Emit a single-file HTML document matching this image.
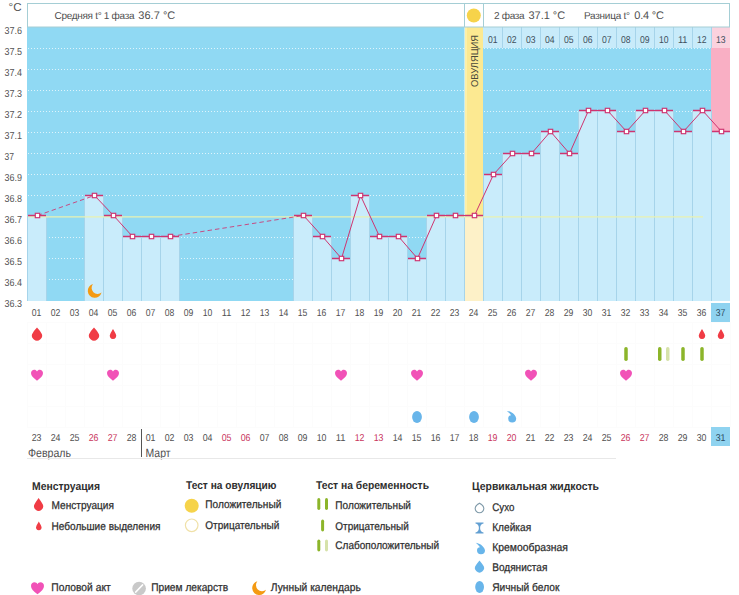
<!DOCTYPE html>
<html><head><meta charset="utf-8"><style>
html,body{margin:0;padding:0;background:#fff;width:739px;height:595px;overflow:hidden}
svg{display:block;font-family:"Liberation Sans",sans-serif}
</style></head><body>
<svg width="739" height="595" viewBox="0 0 739 595" font-family="Liberation Sans, sans-serif" text-rendering="geometricPrecision">
<rect width="739" height="595" fill="#ffffff"/>
<rect x="27" y="27" width="703" height="274" fill="#90d9f3"/>
<line x1="28" y1="48.5" x2="730" y2="48.5" stroke="#ffffff" stroke-opacity="0.7" stroke-width="1" stroke-dasharray="1 2"/>
<line x1="28" y1="69.5" x2="730" y2="69.5" stroke="#ffffff" stroke-opacity="0.7" stroke-width="1" stroke-dasharray="1 2"/>
<line x1="28" y1="90.5" x2="730" y2="90.5" stroke="#ffffff" stroke-opacity="0.7" stroke-width="1" stroke-dasharray="1 2"/>
<line x1="28" y1="111.5" x2="730" y2="111.5" stroke="#ffffff" stroke-opacity="0.7" stroke-width="1" stroke-dasharray="1 2"/>
<line x1="28" y1="132.5" x2="730" y2="132.5" stroke="#ffffff" stroke-opacity="0.7" stroke-width="1" stroke-dasharray="1 2"/>
<line x1="28" y1="153.5" x2="730" y2="153.5" stroke="#ffffff" stroke-opacity="0.7" stroke-width="1" stroke-dasharray="1 2"/>
<line x1="28" y1="174.5" x2="730" y2="174.5" stroke="#ffffff" stroke-opacity="0.7" stroke-width="1" stroke-dasharray="1 2"/>
<line x1="28" y1="195.5" x2="730" y2="195.5" stroke="#ffffff" stroke-opacity="0.7" stroke-width="1" stroke-dasharray="1 2"/>
<line x1="28" y1="237.5" x2="730" y2="237.5" stroke="#ffffff" stroke-opacity="0.7" stroke-width="1" stroke-dasharray="1 2"/>
<line x1="28" y1="258.5" x2="730" y2="258.5" stroke="#ffffff" stroke-opacity="0.7" stroke-width="1" stroke-dasharray="1 2"/>
<line x1="28" y1="279.5" x2="730" y2="279.5" stroke="#ffffff" stroke-opacity="0.7" stroke-width="1" stroke-dasharray="1 2"/>
<rect x="464" y="27" width="19" height="274" fill="#c9ecf0"/>
<rect x="465" y="27" width="18" height="274" fill="#fce991"/>
<rect x="465" y="27" width="2" height="274" fill="#fdf0a8"/>
<rect x="711" y="27" width="19" height="274" fill="#f9afc4"/>
<rect x="483" y="27" width="19" height="21" fill="#c8ebfa"/>
<rect x="502" y="27" width="19" height="21" fill="#c8ebfa"/>
<rect x="521" y="27" width="19" height="21" fill="#c8ebfa"/>
<rect x="540" y="27" width="19" height="21" fill="#c8ebfa"/>
<rect x="559" y="27" width="19" height="21" fill="#c8ebfa"/>
<rect x="578" y="27" width="19" height="21" fill="#c8ebfa"/>
<rect x="597" y="27" width="19" height="21" fill="#c8ebfa"/>
<rect x="616" y="27" width="19" height="21" fill="#c8ebfa"/>
<rect x="635" y="27" width="19" height="21" fill="#c8ebfa"/>
<rect x="654" y="27" width="19" height="21" fill="#c8ebfa"/>
<rect x="673" y="27" width="19" height="21" fill="#c8ebfa"/>
<rect x="692" y="27" width="19" height="21" fill="#c8ebfa"/>
<rect x="711" y="27" width="19" height="21" fill="#fbd2de"/>
<rect x="27" y="215" width="19" height="86" fill="#c9ecfb"/>
<rect x="84" y="195" width="19" height="106" fill="#c9ecfb"/>
<rect x="103" y="215" width="19" height="86" fill="#c9ecfb"/>
<rect x="122" y="236" width="19" height="65" fill="#c9ecfb"/>
<rect x="141" y="236" width="19" height="65" fill="#c9ecfb"/>
<rect x="160" y="236" width="19" height="65" fill="#c9ecfb"/>
<rect x="293" y="215" width="19" height="86" fill="#c9ecfb"/>
<rect x="312" y="236" width="19" height="65" fill="#c9ecfb"/>
<rect x="331" y="258" width="19" height="43" fill="#c9ecfb"/>
<rect x="350" y="195" width="19" height="106" fill="#c9ecfb"/>
<rect x="369" y="236" width="19" height="65" fill="#c9ecfb"/>
<rect x="388" y="236" width="19" height="65" fill="#c9ecfb"/>
<rect x="407" y="258" width="19" height="43" fill="#c9ecfb"/>
<rect x="426" y="215" width="19" height="86" fill="#c9ecfb"/>
<rect x="445" y="215" width="19" height="86" fill="#c9ecfb"/>
<rect x="464" y="215" width="19" height="86" fill="#fdf1c8"/>
<rect x="483" y="174" width="19" height="127" fill="#c9ecfb"/>
<rect x="502" y="153" width="19" height="148" fill="#c9ecfb"/>
<rect x="521" y="153" width="19" height="148" fill="#c9ecfb"/>
<rect x="540" y="131" width="19" height="170" fill="#c9ecfb"/>
<rect x="559" y="153" width="19" height="148" fill="#c9ecfb"/>
<rect x="578" y="110" width="19" height="191" fill="#c9ecfb"/>
<rect x="597" y="110" width="19" height="191" fill="#c9ecfb"/>
<rect x="616" y="131" width="19" height="170" fill="#c9ecfb"/>
<rect x="635" y="110" width="19" height="191" fill="#c9ecfb"/>
<rect x="654" y="110" width="19" height="191" fill="#c9ecfb"/>
<rect x="673" y="131" width="19" height="170" fill="#c9ecfb"/>
<rect x="692" y="110" width="19" height="191" fill="#c9ecfb"/>
<rect x="711" y="131" width="19" height="170" fill="#c9ecfb"/>
<line x1="27.5" y1="215" x2="27.5" y2="301" stroke="#a6d4ea"/>
<line x1="46.5" y1="215" x2="46.5" y2="301" stroke="#a6d4ea"/>
<line x1="84.5" y1="195" x2="84.5" y2="301" stroke="#a6d4ea"/>
<line x1="103.5" y1="195" x2="103.5" y2="301" stroke="#a6d4ea"/>
<line x1="103.5" y1="215" x2="103.5" y2="301" stroke="#a6d4ea"/>
<line x1="122.5" y1="215" x2="122.5" y2="301" stroke="#a6d4ea"/>
<line x1="122.5" y1="236" x2="122.5" y2="301" stroke="#a6d4ea"/>
<line x1="141.5" y1="236" x2="141.5" y2="301" stroke="#a6d4ea"/>
<line x1="141.5" y1="236" x2="141.5" y2="301" stroke="#a6d4ea"/>
<line x1="160.5" y1="236" x2="160.5" y2="301" stroke="#a6d4ea"/>
<line x1="160.5" y1="236" x2="160.5" y2="301" stroke="#a6d4ea"/>
<line x1="179.5" y1="236" x2="179.5" y2="301" stroke="#a6d4ea"/>
<line x1="293.5" y1="215" x2="293.5" y2="301" stroke="#a6d4ea"/>
<line x1="312.5" y1="215" x2="312.5" y2="301" stroke="#a6d4ea"/>
<line x1="312.5" y1="236" x2="312.5" y2="301" stroke="#a6d4ea"/>
<line x1="331.5" y1="236" x2="331.5" y2="301" stroke="#a6d4ea"/>
<line x1="331.5" y1="258" x2="331.5" y2="301" stroke="#a6d4ea"/>
<line x1="350.5" y1="258" x2="350.5" y2="301" stroke="#a6d4ea"/>
<line x1="350.5" y1="195" x2="350.5" y2="301" stroke="#a6d4ea"/>
<line x1="369.5" y1="195" x2="369.5" y2="301" stroke="#a6d4ea"/>
<line x1="369.5" y1="236" x2="369.5" y2="301" stroke="#a6d4ea"/>
<line x1="388.5" y1="236" x2="388.5" y2="301" stroke="#a6d4ea"/>
<line x1="388.5" y1="236" x2="388.5" y2="301" stroke="#a6d4ea"/>
<line x1="407.5" y1="236" x2="407.5" y2="301" stroke="#a6d4ea"/>
<line x1="407.5" y1="258" x2="407.5" y2="301" stroke="#a6d4ea"/>
<line x1="426.5" y1="258" x2="426.5" y2="301" stroke="#a6d4ea"/>
<line x1="426.5" y1="215" x2="426.5" y2="301" stroke="#a6d4ea"/>
<line x1="445.5" y1="215" x2="445.5" y2="301" stroke="#a6d4ea"/>
<line x1="445.5" y1="215" x2="445.5" y2="301" stroke="#a6d4ea"/>
<line x1="464.5" y1="215" x2="464.5" y2="301" stroke="#a6d4ea"/>
<line x1="464.5" y1="215" x2="464.5" y2="301" stroke="#a6d4ea"/>
<line x1="483.5" y1="215" x2="483.5" y2="301" stroke="#a6d4ea"/>
<line x1="483.5" y1="174" x2="483.5" y2="301" stroke="#a6d4ea"/>
<line x1="502.5" y1="174" x2="502.5" y2="301" stroke="#a6d4ea"/>
<line x1="502.5" y1="153" x2="502.5" y2="301" stroke="#a6d4ea"/>
<line x1="521.5" y1="153" x2="521.5" y2="301" stroke="#a6d4ea"/>
<line x1="521.5" y1="153" x2="521.5" y2="301" stroke="#a6d4ea"/>
<line x1="540.5" y1="153" x2="540.5" y2="301" stroke="#a6d4ea"/>
<line x1="540.5" y1="131" x2="540.5" y2="301" stroke="#a6d4ea"/>
<line x1="559.5" y1="131" x2="559.5" y2="301" stroke="#a6d4ea"/>
<line x1="559.5" y1="153" x2="559.5" y2="301" stroke="#a6d4ea"/>
<line x1="578.5" y1="153" x2="578.5" y2="301" stroke="#a6d4ea"/>
<line x1="578.5" y1="110" x2="578.5" y2="301" stroke="#a6d4ea"/>
<line x1="597.5" y1="110" x2="597.5" y2="301" stroke="#a6d4ea"/>
<line x1="597.5" y1="110" x2="597.5" y2="301" stroke="#a6d4ea"/>
<line x1="616.5" y1="110" x2="616.5" y2="301" stroke="#a6d4ea"/>
<line x1="616.5" y1="131" x2="616.5" y2="301" stroke="#a6d4ea"/>
<line x1="635.5" y1="131" x2="635.5" y2="301" stroke="#a6d4ea"/>
<line x1="635.5" y1="110" x2="635.5" y2="301" stroke="#a6d4ea"/>
<line x1="654.5" y1="110" x2="654.5" y2="301" stroke="#a6d4ea"/>
<line x1="654.5" y1="110" x2="654.5" y2="301" stroke="#a6d4ea"/>
<line x1="673.5" y1="110" x2="673.5" y2="301" stroke="#a6d4ea"/>
<line x1="673.5" y1="131" x2="673.5" y2="301" stroke="#a6d4ea"/>
<line x1="692.5" y1="131" x2="692.5" y2="301" stroke="#a6d4ea"/>
<line x1="692.5" y1="110" x2="692.5" y2="301" stroke="#a6d4ea"/>
<line x1="711.5" y1="110" x2="711.5" y2="301" stroke="#a6d4ea"/>
<line x1="711.5" y1="131" x2="711.5" y2="301" stroke="#a6d4ea"/>
<line x1="502.5" y1="27" x2="502.5" y2="48" stroke="#a6d4ea"/>
<line x1="521.5" y1="27" x2="521.5" y2="48" stroke="#a6d4ea"/>
<line x1="540.5" y1="27" x2="540.5" y2="48" stroke="#a6d4ea"/>
<line x1="559.5" y1="27" x2="559.5" y2="48" stroke="#a6d4ea"/>
<line x1="578.5" y1="27" x2="578.5" y2="48" stroke="#a6d4ea"/>
<line x1="597.5" y1="27" x2="597.5" y2="48" stroke="#a6d4ea"/>
<line x1="616.5" y1="27" x2="616.5" y2="48" stroke="#a6d4ea"/>
<line x1="635.5" y1="27" x2="635.5" y2="48" stroke="#a6d4ea"/>
<line x1="654.5" y1="27" x2="654.5" y2="48" stroke="#a6d4ea"/>
<line x1="673.5" y1="27" x2="673.5" y2="48" stroke="#a6d4ea"/>
<line x1="692.5" y1="27" x2="692.5" y2="48" stroke="#a6d4ea"/>
<line x1="711.5" y1="27" x2="711.5" y2="48" stroke="#a6d4ea"/>
<line x1="28" y1="216.9" x2="703" y2="216.9" stroke="#e9f2b2" stroke-width="1.4"/>
<rect x="27.5" y="3.5" width="702" height="23.5" fill="#ffffff" stroke="#a5ced5"/>
<line x1="464.5" y1="3.5" x2="464.5" y2="27" stroke="#a5ced5"/>
<line x1="483.5" y1="3.5" x2="483.5" y2="27" stroke="#a5ced5"/>
<circle cx="473.8" cy="15.5" r="7" fill="#f6d34a"/>
<line x1="28" y1="215.5" x2="46" y2="215.5" stroke="#cf3470" stroke-width="1.5"/>
<line x1="85" y1="195.5" x2="103" y2="195.5" stroke="#cf3470" stroke-width="1.5"/>
<line x1="104" y1="215.5" x2="122" y2="215.5" stroke="#cf3470" stroke-width="1.5"/>
<line x1="123" y1="236.5" x2="141" y2="236.5" stroke="#cf3470" stroke-width="1.5"/>
<line x1="142" y1="236.5" x2="160" y2="236.5" stroke="#cf3470" stroke-width="1.5"/>
<line x1="161" y1="236.5" x2="179" y2="236.5" stroke="#cf3470" stroke-width="1.5"/>
<line x1="294" y1="215.5" x2="312" y2="215.5" stroke="#cf3470" stroke-width="1.5"/>
<line x1="313" y1="236.5" x2="331" y2="236.5" stroke="#cf3470" stroke-width="1.5"/>
<line x1="332" y1="258.5" x2="350" y2="258.5" stroke="#cf3470" stroke-width="1.5"/>
<line x1="351" y1="195.5" x2="369" y2="195.5" stroke="#cf3470" stroke-width="1.5"/>
<line x1="370" y1="236.5" x2="388" y2="236.5" stroke="#cf3470" stroke-width="1.5"/>
<line x1="389" y1="236.5" x2="407" y2="236.5" stroke="#cf3470" stroke-width="1.5"/>
<line x1="408" y1="258.5" x2="426" y2="258.5" stroke="#cf3470" stroke-width="1.5"/>
<line x1="427" y1="215.5" x2="445" y2="215.5" stroke="#cf3470" stroke-width="1.5"/>
<line x1="446" y1="215.5" x2="464" y2="215.5" stroke="#cf3470" stroke-width="1.5"/>
<line x1="465" y1="215.5" x2="483" y2="215.5" stroke="#cf3470" stroke-width="1.5"/>
<line x1="484" y1="174.5" x2="502" y2="174.5" stroke="#cf3470" stroke-width="1.5"/>
<line x1="503" y1="153.5" x2="521" y2="153.5" stroke="#cf3470" stroke-width="1.5"/>
<line x1="522" y1="153.5" x2="540" y2="153.5" stroke="#cf3470" stroke-width="1.5"/>
<line x1="541" y1="131.5" x2="559" y2="131.5" stroke="#cf3470" stroke-width="1.5"/>
<line x1="560" y1="153.5" x2="578" y2="153.5" stroke="#cf3470" stroke-width="1.5"/>
<line x1="579" y1="110.5" x2="597" y2="110.5" stroke="#cf3470" stroke-width="1.5"/>
<line x1="598" y1="110.5" x2="616" y2="110.5" stroke="#cf3470" stroke-width="1.5"/>
<line x1="617" y1="131.5" x2="635" y2="131.5" stroke="#cf3470" stroke-width="1.5"/>
<line x1="636" y1="110.5" x2="654" y2="110.5" stroke="#cf3470" stroke-width="1.5"/>
<line x1="655" y1="110.5" x2="673" y2="110.5" stroke="#cf3470" stroke-width="1.5"/>
<line x1="674" y1="131.5" x2="692" y2="131.5" stroke="#cf3470" stroke-width="1.5"/>
<line x1="693" y1="110.5" x2="711" y2="110.5" stroke="#cf3470" stroke-width="1.5"/>
<line x1="712" y1="131.5" x2="730" y2="131.5" stroke="#cf3470" stroke-width="1.5"/>
<line x1="37.5" y1="215.5" x2="94.5" y2="195.5" stroke="#cf3470" stroke-width="1" stroke-dasharray="4.5 3" stroke-opacity="0.85"/>
<line x1="94.5" y1="195.5" x2="113.5" y2="215.5" stroke="#cf3470" stroke-width="1"/>
<line x1="113.5" y1="215.5" x2="132.5" y2="236.5" stroke="#cf3470" stroke-width="1"/>
<line x1="132.5" y1="236.5" x2="151.5" y2="236.5" stroke="#cf3470" stroke-width="1"/>
<line x1="151.5" y1="236.5" x2="170.5" y2="236.5" stroke="#cf3470" stroke-width="1"/>
<line x1="170.5" y1="236.5" x2="303.5" y2="215.5" stroke="#cf3470" stroke-width="1" stroke-dasharray="4.5 3" stroke-opacity="0.85"/>
<line x1="303.5" y1="215.5" x2="322.5" y2="236.5" stroke="#cf3470" stroke-width="1"/>
<line x1="322.5" y1="236.5" x2="341.5" y2="258.5" stroke="#cf3470" stroke-width="1"/>
<line x1="341.5" y1="258.5" x2="360.5" y2="195.5" stroke="#cf3470" stroke-width="1"/>
<line x1="360.5" y1="195.5" x2="379.5" y2="236.5" stroke="#cf3470" stroke-width="1"/>
<line x1="379.5" y1="236.5" x2="398.5" y2="236.5" stroke="#cf3470" stroke-width="1"/>
<line x1="398.5" y1="236.5" x2="417.5" y2="258.5" stroke="#cf3470" stroke-width="1"/>
<line x1="417.5" y1="258.5" x2="436.5" y2="215.5" stroke="#cf3470" stroke-width="1"/>
<line x1="436.5" y1="215.5" x2="455.5" y2="215.5" stroke="#cf3470" stroke-width="1"/>
<line x1="455.5" y1="215.5" x2="474.5" y2="215.5" stroke="#cf3470" stroke-width="1"/>
<line x1="474.5" y1="215.5" x2="493.5" y2="174.5" stroke="#cf3470" stroke-width="1"/>
<line x1="493.5" y1="174.5" x2="512.5" y2="153.5" stroke="#cf3470" stroke-width="1"/>
<line x1="512.5" y1="153.5" x2="531.5" y2="153.5" stroke="#cf3470" stroke-width="1"/>
<line x1="531.5" y1="153.5" x2="550.5" y2="131.5" stroke="#cf3470" stroke-width="1"/>
<line x1="550.5" y1="131.5" x2="569.5" y2="153.5" stroke="#cf3470" stroke-width="1"/>
<line x1="569.5" y1="153.5" x2="588.5" y2="110.5" stroke="#cf3470" stroke-width="1"/>
<line x1="588.5" y1="110.5" x2="607.5" y2="110.5" stroke="#cf3470" stroke-width="1"/>
<line x1="607.5" y1="110.5" x2="626.5" y2="131.5" stroke="#cf3470" stroke-width="1"/>
<line x1="626.5" y1="131.5" x2="645.5" y2="110.5" stroke="#cf3470" stroke-width="1"/>
<line x1="645.5" y1="110.5" x2="664.5" y2="110.5" stroke="#cf3470" stroke-width="1"/>
<line x1="664.5" y1="110.5" x2="683.5" y2="131.5" stroke="#cf3470" stroke-width="1"/>
<line x1="683.5" y1="131.5" x2="702.5" y2="110.5" stroke="#cf3470" stroke-width="1"/>
<line x1="702.5" y1="110.5" x2="721.5" y2="131.5" stroke="#cf3470" stroke-width="1"/>
<rect x="35.3" y="213.3" width="4.4" height="4.4" fill="#ffffff" stroke="#cf3470" stroke-width="1.15"/>
<rect x="92.3" y="193.3" width="4.4" height="4.4" fill="#ffffff" stroke="#cf3470" stroke-width="1.15"/>
<rect x="111.3" y="213.3" width="4.4" height="4.4" fill="#ffffff" stroke="#cf3470" stroke-width="1.15"/>
<rect x="130.3" y="234.3" width="4.4" height="4.4" fill="#ffffff" stroke="#cf3470" stroke-width="1.15"/>
<rect x="149.3" y="234.3" width="4.4" height="4.4" fill="#ffffff" stroke="#cf3470" stroke-width="1.15"/>
<rect x="168.3" y="234.3" width="4.4" height="4.4" fill="#ffffff" stroke="#cf3470" stroke-width="1.15"/>
<rect x="301.3" y="213.3" width="4.4" height="4.4" fill="#ffffff" stroke="#cf3470" stroke-width="1.15"/>
<rect x="320.3" y="234.3" width="4.4" height="4.4" fill="#ffffff" stroke="#cf3470" stroke-width="1.15"/>
<rect x="339.3" y="256.3" width="4.4" height="4.4" fill="#ffffff" stroke="#cf3470" stroke-width="1.15"/>
<rect x="358.3" y="193.3" width="4.4" height="4.4" fill="#ffffff" stroke="#cf3470" stroke-width="1.15"/>
<rect x="377.3" y="234.3" width="4.4" height="4.4" fill="#ffffff" stroke="#cf3470" stroke-width="1.15"/>
<rect x="396.3" y="234.3" width="4.4" height="4.4" fill="#ffffff" stroke="#cf3470" stroke-width="1.15"/>
<rect x="415.3" y="256.3" width="4.4" height="4.4" fill="#ffffff" stroke="#cf3470" stroke-width="1.15"/>
<rect x="434.3" y="213.3" width="4.4" height="4.4" fill="#ffffff" stroke="#cf3470" stroke-width="1.15"/>
<rect x="453.3" y="213.3" width="4.4" height="4.4" fill="#ffffff" stroke="#cf3470" stroke-width="1.15"/>
<rect x="472.3" y="213.3" width="4.4" height="4.4" fill="#ffffff" stroke="#cf3470" stroke-width="1.15"/>
<rect x="491.3" y="172.3" width="4.4" height="4.4" fill="#ffffff" stroke="#cf3470" stroke-width="1.15"/>
<rect x="510.3" y="151.3" width="4.4" height="4.4" fill="#ffffff" stroke="#cf3470" stroke-width="1.15"/>
<rect x="529.3" y="151.3" width="4.4" height="4.4" fill="#ffffff" stroke="#cf3470" stroke-width="1.15"/>
<rect x="548.3" y="129.3" width="4.4" height="4.4" fill="#ffffff" stroke="#cf3470" stroke-width="1.15"/>
<rect x="567.3" y="151.3" width="4.4" height="4.4" fill="#ffffff" stroke="#cf3470" stroke-width="1.15"/>
<rect x="586.3" y="108.3" width="4.4" height="4.4" fill="#ffffff" stroke="#cf3470" stroke-width="1.15"/>
<rect x="605.3" y="108.3" width="4.4" height="4.4" fill="#ffffff" stroke="#cf3470" stroke-width="1.15"/>
<rect x="624.3" y="129.3" width="4.4" height="4.4" fill="#ffffff" stroke="#cf3470" stroke-width="1.15"/>
<rect x="643.3" y="108.3" width="4.4" height="4.4" fill="#ffffff" stroke="#cf3470" stroke-width="1.15"/>
<rect x="662.3" y="108.3" width="4.4" height="4.4" fill="#ffffff" stroke="#cf3470" stroke-width="1.15"/>
<rect x="681.3" y="129.3" width="4.4" height="4.4" fill="#ffffff" stroke="#cf3470" stroke-width="1.15"/>
<rect x="700.3" y="108.3" width="4.4" height="4.4" fill="#ffffff" stroke="#cf3470" stroke-width="1.15"/>
<rect x="719.3" y="129.3" width="4.4" height="4.4" fill="#ffffff" stroke="#cf3470" stroke-width="1.15"/>
<text transform="translate(477.5,87) rotate(-90)" font-size="10" fill="#4a4a3c" textLength="52" lengthAdjust="spacingAndGlyphs">ОВУЛЯЦИЯ</text>
<path d="M92.99,284.04 A7.00,7.00 0 1 0 101.56,292.61 A6.09,6.09 0 0 1 92.99,284.04 Z" fill="#f49a12"/>
<text x="8.5" y="10.7" font-size="11.6" fill="#555555">°C</text>
<text x="4.6" y="34" font-size="10.2" fill="#555555" textLength="17.5" lengthAdjust="spacingAndGlyphs">37.6</text>
<text x="4.6" y="55" font-size="10.2" fill="#555555" textLength="17.5" lengthAdjust="spacingAndGlyphs">37.5</text>
<text x="4.6" y="76" font-size="10.2" fill="#555555" textLength="17.5" lengthAdjust="spacingAndGlyphs">37.4</text>
<text x="4.6" y="97" font-size="10.2" fill="#555555" textLength="17.5" lengthAdjust="spacingAndGlyphs">37.3</text>
<text x="4.6" y="118" font-size="10.2" fill="#555555" textLength="17.5" lengthAdjust="spacingAndGlyphs">37.2</text>
<text x="4.6" y="139" font-size="10.2" fill="#555555" textLength="17.5" lengthAdjust="spacingAndGlyphs">37.1</text>
<text x="4.6" y="160" font-size="10.2" fill="#555555" textLength="9.5" lengthAdjust="spacingAndGlyphs">37</text>
<text x="4.6" y="181" font-size="10.2" fill="#555555" textLength="17.5" lengthAdjust="spacingAndGlyphs">36.9</text>
<text x="4.6" y="202" font-size="10.2" fill="#555555" textLength="17.5" lengthAdjust="spacingAndGlyphs">36.8</text>
<text x="4.6" y="223" font-size="10.2" fill="#555555" textLength="17.5" lengthAdjust="spacingAndGlyphs">36.7</text>
<text x="4.6" y="244" font-size="10.2" fill="#555555" textLength="17.5" lengthAdjust="spacingAndGlyphs">36.6</text>
<text x="4.6" y="265" font-size="10.2" fill="#555555" textLength="17.5" lengthAdjust="spacingAndGlyphs">36.5</text>
<text x="4.6" y="286" font-size="10.2" fill="#555555" textLength="17.5" lengthAdjust="spacingAndGlyphs">36.4</text>
<text x="4.6" y="307" font-size="10.2" fill="#555555" textLength="17.5" lengthAdjust="spacingAndGlyphs">36.3</text>
<text x="54.5" y="19" font-size="10" fill="#505050" textLength="80" lengthAdjust="spacing">Средняя t° 1 фаза</text>
<text x="138.3" y="19.3" font-size="11" fill="#505050" textLength="37" lengthAdjust="spacing">36.7 °C</text>
<text x="494" y="19" font-size="10" fill="#505050" textLength="30.6" lengthAdjust="spacing">2 фаза</text>
<text x="528.5" y="19.3" font-size="11" fill="#505050" textLength="36.7" lengthAdjust="spacing">37.1 °C</text>
<text x="584" y="19" font-size="10" fill="#505050" textLength="46" lengthAdjust="spacing">Разница t°</text>
<text x="634.2" y="19.3" font-size="11" fill="#505050" textLength="29.8" lengthAdjust="spacing">0.4 °C</text>
<text x="487.9" y="43.2" font-size="10" fill="#3e4f5c" textLength="9.6" lengthAdjust="spacingAndGlyphs">01</text>
<text x="506.9" y="43.2" font-size="10" fill="#3e4f5c" textLength="9.6" lengthAdjust="spacingAndGlyphs">02</text>
<text x="525.9" y="43.2" font-size="10" fill="#3e4f5c" textLength="9.6" lengthAdjust="spacingAndGlyphs">03</text>
<text x="544.9" y="43.2" font-size="10" fill="#3e4f5c" textLength="9.6" lengthAdjust="spacingAndGlyphs">04</text>
<text x="563.9" y="43.2" font-size="10" fill="#3e4f5c" textLength="9.6" lengthAdjust="spacingAndGlyphs">05</text>
<text x="582.9" y="43.2" font-size="10" fill="#3e4f5c" textLength="9.6" lengthAdjust="spacingAndGlyphs">06</text>
<text x="601.9" y="43.2" font-size="10" fill="#3e4f5c" textLength="9.6" lengthAdjust="spacingAndGlyphs">07</text>
<text x="620.9" y="43.2" font-size="10" fill="#3e4f5c" textLength="9.6" lengthAdjust="spacingAndGlyphs">08</text>
<text x="639.9" y="43.2" font-size="10" fill="#3e4f5c" textLength="9.6" lengthAdjust="spacingAndGlyphs">09</text>
<text x="658.9" y="43.2" font-size="10" fill="#3e4f5c" textLength="9.6" lengthAdjust="spacingAndGlyphs">10</text>
<text x="677.9" y="43.2" font-size="10" fill="#3e4f5c" textLength="9.6" lengthAdjust="spacingAndGlyphs">11</text>
<text x="696.9" y="43.2" font-size="10" fill="#3e4f5c" textLength="9.6" lengthAdjust="spacingAndGlyphs">12</text>
<text x="715.9" y="43.2" font-size="10" fill="#3e4f5c" textLength="9.6" lengthAdjust="spacingAndGlyphs">13</text>
<rect x="711" y="303" width="19" height="20" fill="#8fd3f0"/>
<text x="31.7" y="316.2" font-size="10" textLength="9.6" lengthAdjust="spacingAndGlyphs" fill="#505050">01</text>
<text x="50.7" y="316.2" font-size="10" textLength="9.6" lengthAdjust="spacingAndGlyphs" fill="#505050">02</text>
<text x="69.7" y="316.2" font-size="10" textLength="9.6" lengthAdjust="spacingAndGlyphs" fill="#505050">03</text>
<text x="88.7" y="316.2" font-size="10" textLength="9.6" lengthAdjust="spacingAndGlyphs" fill="#505050">04</text>
<text x="107.7" y="316.2" font-size="10" textLength="9.6" lengthAdjust="spacingAndGlyphs" fill="#505050">05</text>
<text x="126.7" y="316.2" font-size="10" textLength="9.6" lengthAdjust="spacingAndGlyphs" fill="#505050">06</text>
<text x="145.7" y="316.2" font-size="10" textLength="9.6" lengthAdjust="spacingAndGlyphs" fill="#505050">07</text>
<text x="164.7" y="316.2" font-size="10" textLength="9.6" lengthAdjust="spacingAndGlyphs" fill="#505050">08</text>
<text x="183.7" y="316.2" font-size="10" textLength="9.6" lengthAdjust="spacingAndGlyphs" fill="#505050">09</text>
<text x="202.7" y="316.2" font-size="10" textLength="9.6" lengthAdjust="spacingAndGlyphs" fill="#505050">10</text>
<text x="221.7" y="316.2" font-size="10" textLength="9.6" lengthAdjust="spacingAndGlyphs" fill="#505050">11</text>
<text x="240.7" y="316.2" font-size="10" textLength="9.6" lengthAdjust="spacingAndGlyphs" fill="#505050">12</text>
<text x="259.7" y="316.2" font-size="10" textLength="9.6" lengthAdjust="spacingAndGlyphs" fill="#505050">13</text>
<text x="278.7" y="316.2" font-size="10" textLength="9.6" lengthAdjust="spacingAndGlyphs" fill="#505050">14</text>
<text x="297.7" y="316.2" font-size="10" textLength="9.6" lengthAdjust="spacingAndGlyphs" fill="#505050">15</text>
<text x="316.7" y="316.2" font-size="10" textLength="9.6" lengthAdjust="spacingAndGlyphs" fill="#505050">16</text>
<text x="335.7" y="316.2" font-size="10" textLength="9.6" lengthAdjust="spacingAndGlyphs" fill="#505050">17</text>
<text x="354.7" y="316.2" font-size="10" textLength="9.6" lengthAdjust="spacingAndGlyphs" fill="#505050">18</text>
<text x="373.7" y="316.2" font-size="10" textLength="9.6" lengthAdjust="spacingAndGlyphs" fill="#505050">19</text>
<text x="392.7" y="316.2" font-size="10" textLength="9.6" lengthAdjust="spacingAndGlyphs" fill="#505050">20</text>
<text x="411.7" y="316.2" font-size="10" textLength="9.6" lengthAdjust="spacingAndGlyphs" fill="#505050">21</text>
<text x="430.7" y="316.2" font-size="10" textLength="9.6" lengthAdjust="spacingAndGlyphs" fill="#505050">22</text>
<text x="449.7" y="316.2" font-size="10" textLength="9.6" lengthAdjust="spacingAndGlyphs" fill="#505050">23</text>
<text x="468.7" y="316.2" font-size="10" textLength="9.6" lengthAdjust="spacingAndGlyphs" fill="#505050">24</text>
<text x="487.7" y="316.2" font-size="10" textLength="9.6" lengthAdjust="spacingAndGlyphs" fill="#505050">25</text>
<text x="506.7" y="316.2" font-size="10" textLength="9.6" lengthAdjust="spacingAndGlyphs" fill="#505050">26</text>
<text x="525.7" y="316.2" font-size="10" textLength="9.6" lengthAdjust="spacingAndGlyphs" fill="#505050">27</text>
<text x="544.7" y="316.2" font-size="10" textLength="9.6" lengthAdjust="spacingAndGlyphs" fill="#505050">28</text>
<text x="563.7" y="316.2" font-size="10" textLength="9.6" lengthAdjust="spacingAndGlyphs" fill="#505050">29</text>
<text x="582.7" y="316.2" font-size="10" textLength="9.6" lengthAdjust="spacingAndGlyphs" fill="#505050">30</text>
<text x="601.7" y="316.2" font-size="10" textLength="9.6" lengthAdjust="spacingAndGlyphs" fill="#505050">31</text>
<text x="620.7" y="316.2" font-size="10" textLength="9.6" lengthAdjust="spacingAndGlyphs" fill="#505050">32</text>
<text x="639.7" y="316.2" font-size="10" textLength="9.6" lengthAdjust="spacingAndGlyphs" fill="#505050">33</text>
<text x="658.7" y="316.2" font-size="10" textLength="9.6" lengthAdjust="spacingAndGlyphs" fill="#505050">34</text>
<text x="677.7" y="316.2" font-size="10" textLength="9.6" lengthAdjust="spacingAndGlyphs" fill="#505050">35</text>
<text x="696.7" y="316.2" font-size="10" textLength="9.6" lengthAdjust="spacingAndGlyphs" fill="#505050">36</text>
<text x="715.7" y="316.2" font-size="10" textLength="9.6" lengthAdjust="spacingAndGlyphs" fill="#2d4d63">37</text>
<line x1="27" y1="322.5" x2="730" y2="322.5" stroke="#fcfcfc"/>
<line x1="27" y1="343.5" x2="730" y2="343.5" stroke="#fcfcfc"/>
<line x1="27" y1="364.5" x2="730" y2="364.5" stroke="#fcfcfc"/>
<line x1="27" y1="385.5" x2="730" y2="385.5" stroke="#fcfcfc"/>
<line x1="27" y1="406.5" x2="730" y2="406.5" stroke="#fcfcfc"/>
<line x1="27" y1="427.5" x2="730" y2="427.5" stroke="#fcfcfc"/>
<line x1="27.5" y1="322" x2="27.5" y2="427" stroke="#fcfcfc"/>
<line x1="46.5" y1="322" x2="46.5" y2="427" stroke="#fcfcfc"/>
<line x1="65.5" y1="322" x2="65.5" y2="427" stroke="#fcfcfc"/>
<line x1="84.5" y1="322" x2="84.5" y2="427" stroke="#fcfcfc"/>
<line x1="103.5" y1="322" x2="103.5" y2="427" stroke="#fcfcfc"/>
<line x1="122.5" y1="322" x2="122.5" y2="427" stroke="#fcfcfc"/>
<line x1="141.5" y1="322" x2="141.5" y2="427" stroke="#fcfcfc"/>
<line x1="160.5" y1="322" x2="160.5" y2="427" stroke="#fcfcfc"/>
<line x1="179.5" y1="322" x2="179.5" y2="427" stroke="#fcfcfc"/>
<line x1="198.5" y1="322" x2="198.5" y2="427" stroke="#fcfcfc"/>
<line x1="217.5" y1="322" x2="217.5" y2="427" stroke="#fcfcfc"/>
<line x1="236.5" y1="322" x2="236.5" y2="427" stroke="#fcfcfc"/>
<line x1="255.5" y1="322" x2="255.5" y2="427" stroke="#fcfcfc"/>
<line x1="274.5" y1="322" x2="274.5" y2="427" stroke="#fcfcfc"/>
<line x1="293.5" y1="322" x2="293.5" y2="427" stroke="#fcfcfc"/>
<line x1="312.5" y1="322" x2="312.5" y2="427" stroke="#fcfcfc"/>
<line x1="331.5" y1="322" x2="331.5" y2="427" stroke="#fcfcfc"/>
<line x1="350.5" y1="322" x2="350.5" y2="427" stroke="#fcfcfc"/>
<line x1="369.5" y1="322" x2="369.5" y2="427" stroke="#fcfcfc"/>
<line x1="388.5" y1="322" x2="388.5" y2="427" stroke="#fcfcfc"/>
<line x1="407.5" y1="322" x2="407.5" y2="427" stroke="#fcfcfc"/>
<line x1="426.5" y1="322" x2="426.5" y2="427" stroke="#fcfcfc"/>
<line x1="445.5" y1="322" x2="445.5" y2="427" stroke="#fcfcfc"/>
<line x1="464.5" y1="322" x2="464.5" y2="427" stroke="#fcfcfc"/>
<line x1="483.5" y1="322" x2="483.5" y2="427" stroke="#fcfcfc"/>
<line x1="502.5" y1="322" x2="502.5" y2="427" stroke="#fcfcfc"/>
<line x1="521.5" y1="322" x2="521.5" y2="427" stroke="#fcfcfc"/>
<line x1="540.5" y1="322" x2="540.5" y2="427" stroke="#fcfcfc"/>
<line x1="559.5" y1="322" x2="559.5" y2="427" stroke="#fcfcfc"/>
<line x1="578.5" y1="322" x2="578.5" y2="427" stroke="#fcfcfc"/>
<line x1="597.5" y1="322" x2="597.5" y2="427" stroke="#fcfcfc"/>
<line x1="616.5" y1="322" x2="616.5" y2="427" stroke="#fcfcfc"/>
<line x1="635.5" y1="322" x2="635.5" y2="427" stroke="#fcfcfc"/>
<line x1="654.5" y1="322" x2="654.5" y2="427" stroke="#fcfcfc"/>
<line x1="673.5" y1="322" x2="673.5" y2="427" stroke="#fcfcfc"/>
<line x1="692.5" y1="322" x2="692.5" y2="427" stroke="#fcfcfc"/>
<line x1="711.5" y1="322" x2="711.5" y2="427" stroke="#fcfcfc"/>
<line x1="730.5" y1="322" x2="730.5" y2="427" stroke="#fcfcfc"/>
<path d="M37.00,327.50 C38.36,328.96 40.18,331.01 40.90,332.38 A5.00,5.00 0 1 1 33.10,332.38 C33.82,331.01 35.64,328.96 37.00,327.50 Z" fill="#f03c45"/>
<path d="M94.00,327.50 C95.36,328.96 97.18,331.01 97.90,332.38 A5.00,5.00 0 1 1 90.10,332.38 C90.82,331.01 92.64,328.96 94.00,327.50 Z" fill="#f03c45"/>
<path d="M113.00,329.00 C113.98,330.56 115.30,332.73 115.85,334.19 A3.25,3.25 0 1 1 110.15,334.19 C110.70,332.73 112.02,330.56 113.00,329.00 Z" fill="#f03c45"/>
<path d="M702.00,329.00 C702.98,330.56 704.30,332.73 704.85,334.19 A3.25,3.25 0 1 1 699.15,334.19 C699.70,332.73 701.02,330.56 702.00,329.00 Z" fill="#f03c45"/>
<path d="M721.00,329.00 C721.98,330.56 723.30,332.73 723.85,334.19 A3.25,3.25 0 1 1 718.15,334.19 C718.70,332.73 720.02,330.56 721.00,329.00 Z" fill="#f03c45"/>
<path transform="translate(31.00,369.80) scale(1.000)" d="M6,11 C2,8 0,6 0,3.3 C0,1.3 1.5,0 3.2,0 C4.5,0 5.4,0.7 6,1.7 C6.6,0.7 7.5,0 8.8,0 C10.5,0 12,1.3 12,3.3 C12,6 10,8 6,11 Z" fill="#f152b7"/>
<path transform="translate(107.00,369.80) scale(1.000)" d="M6,11 C2,8 0,6 0,3.3 C0,1.3 1.5,0 3.2,0 C4.5,0 5.4,0.7 6,1.7 C6.6,0.7 7.5,0 8.8,0 C10.5,0 12,1.3 12,3.3 C12,6 10,8 6,11 Z" fill="#f152b7"/>
<path transform="translate(335.00,369.80) scale(1.000)" d="M6,11 C2,8 0,6 0,3.3 C0,1.3 1.5,0 3.2,0 C4.5,0 5.4,0.7 6,1.7 C6.6,0.7 7.5,0 8.8,0 C10.5,0 12,1.3 12,3.3 C12,6 10,8 6,11 Z" fill="#f152b7"/>
<path transform="translate(411.00,369.80) scale(1.000)" d="M6,11 C2,8 0,6 0,3.3 C0,1.3 1.5,0 3.2,0 C4.5,0 5.4,0.7 6,1.7 C6.6,0.7 7.5,0 8.8,0 C10.5,0 12,1.3 12,3.3 C12,6 10,8 6,11 Z" fill="#f152b7"/>
<path transform="translate(525.00,369.80) scale(1.000)" d="M6,11 C2,8 0,6 0,3.3 C0,1.3 1.5,0 3.2,0 C4.5,0 5.4,0.7 6,1.7 C6.6,0.7 7.5,0 8.8,0 C10.5,0 12,1.3 12,3.3 C12,6 10,8 6,11 Z" fill="#f152b7"/>
<path transform="translate(620.00,369.80) scale(1.000)" d="M6,11 C2,8 0,6 0,3.3 C0,1.3 1.5,0 3.2,0 C4.5,0 5.4,0.7 6,1.7 C6.6,0.7 7.5,0 8.8,0 C10.5,0 12,1.3 12,3.3 C12,6 10,8 6,11 Z" fill="#f152b7"/>
<rect x="624.25" y="347" width="3.5" height="14" rx="1.7" fill="#8cb52a"/>
<rect x="658.00" y="347" width="3.5" height="14" rx="1.7" fill="#8cb52a"/>
<rect x="666.00" y="347" width="3.5" height="14" rx="1.7" fill="#d6e2aa"/>
<rect x="681.25" y="347" width="3.5" height="14" rx="1.7" fill="#8cb52a"/>
<rect x="700.25" y="347" width="3.5" height="14" rx="1.7" fill="#8cb52a"/>
<ellipse cx="417" cy="417" rx="4.9" ry="5.9" fill="#68b5ea"/>
<ellipse cx="474" cy="417" rx="4.9" ry="5.9" fill="#68b5ea"/>
<path transform="translate(506.9,410.9)" d="M0,0 C3,0.3 8.3,2.8 9.3,7.5 A4,4 0 0 1 1.3,7.5 C1.3,5.6 2.6,4.4 4.2,4.4 C3.2,3 1.8,1.2 0,0 Z" fill="#68b5ea"/>
<rect x="711" y="427" width="19" height="19" fill="#8fd3f0"/>
<text x="31.7" y="441" font-size="10" fill="#505050" textLength="9.8" lengthAdjust="spacingAndGlyphs">23</text>
<text x="50.7" y="441" font-size="10" fill="#505050" textLength="9.8" lengthAdjust="spacingAndGlyphs">24</text>
<text x="69.7" y="441" font-size="10" fill="#505050" textLength="9.8" lengthAdjust="spacingAndGlyphs">25</text>
<text x="88.7" y="441" font-size="10" fill="#c9355d" textLength="9.8" lengthAdjust="spacingAndGlyphs">26</text>
<text x="107.7" y="441" font-size="10" fill="#c9355d" textLength="9.8" lengthAdjust="spacingAndGlyphs">27</text>
<text x="126.7" y="441" font-size="10" fill="#505050" textLength="9.8" lengthAdjust="spacingAndGlyphs">28</text>
<text x="145.7" y="441" font-size="10" fill="#505050" textLength="9.8" lengthAdjust="spacingAndGlyphs">01</text>
<text x="164.7" y="441" font-size="10" fill="#505050" textLength="9.8" lengthAdjust="spacingAndGlyphs">02</text>
<text x="183.7" y="441" font-size="10" fill="#505050" textLength="9.8" lengthAdjust="spacingAndGlyphs">03</text>
<text x="202.7" y="441" font-size="10" fill="#505050" textLength="9.8" lengthAdjust="spacingAndGlyphs">04</text>
<text x="221.7" y="441" font-size="10" fill="#c9355d" textLength="9.8" lengthAdjust="spacingAndGlyphs">05</text>
<text x="240.7" y="441" font-size="10" fill="#c9355d" textLength="9.8" lengthAdjust="spacingAndGlyphs">06</text>
<text x="259.7" y="441" font-size="10" fill="#505050" textLength="9.8" lengthAdjust="spacingAndGlyphs">07</text>
<text x="278.7" y="441" font-size="10" fill="#505050" textLength="9.8" lengthAdjust="spacingAndGlyphs">08</text>
<text x="297.7" y="441" font-size="10" fill="#505050" textLength="9.8" lengthAdjust="spacingAndGlyphs">09</text>
<text x="316.7" y="441" font-size="10" fill="#505050" textLength="9.8" lengthAdjust="spacingAndGlyphs">10</text>
<text x="335.7" y="441" font-size="10" fill="#505050" textLength="9.8" lengthAdjust="spacingAndGlyphs">11</text>
<text x="354.7" y="441" font-size="10" fill="#c9355d" textLength="9.8" lengthAdjust="spacingAndGlyphs">12</text>
<text x="373.7" y="441" font-size="10" fill="#c9355d" textLength="9.8" lengthAdjust="spacingAndGlyphs">13</text>
<text x="392.7" y="441" font-size="10" fill="#505050" textLength="9.8" lengthAdjust="spacingAndGlyphs">14</text>
<text x="411.7" y="441" font-size="10" fill="#505050" textLength="9.8" lengthAdjust="spacingAndGlyphs">15</text>
<text x="430.7" y="441" font-size="10" fill="#505050" textLength="9.8" lengthAdjust="spacingAndGlyphs">16</text>
<text x="449.7" y="441" font-size="10" fill="#505050" textLength="9.8" lengthAdjust="spacingAndGlyphs">17</text>
<text x="468.7" y="441" font-size="10" fill="#505050" textLength="9.8" lengthAdjust="spacingAndGlyphs">18</text>
<text x="487.7" y="441" font-size="10" fill="#c9355d" textLength="9.8" lengthAdjust="spacingAndGlyphs">19</text>
<text x="506.7" y="441" font-size="10" fill="#c9355d" textLength="9.8" lengthAdjust="spacingAndGlyphs">20</text>
<text x="525.7" y="441" font-size="10" fill="#505050" textLength="9.8" lengthAdjust="spacingAndGlyphs">21</text>
<text x="544.7" y="441" font-size="10" fill="#505050" textLength="9.8" lengthAdjust="spacingAndGlyphs">22</text>
<text x="563.7" y="441" font-size="10" fill="#505050" textLength="9.8" lengthAdjust="spacingAndGlyphs">23</text>
<text x="582.7" y="441" font-size="10" fill="#505050" textLength="9.8" lengthAdjust="spacingAndGlyphs">24</text>
<text x="601.7" y="441" font-size="10" fill="#505050" textLength="9.8" lengthAdjust="spacingAndGlyphs">25</text>
<text x="620.7" y="441" font-size="10" fill="#c9355d" textLength="9.8" lengthAdjust="spacingAndGlyphs">26</text>
<text x="639.7" y="441" font-size="10" fill="#c9355d" textLength="9.8" lengthAdjust="spacingAndGlyphs">27</text>
<text x="658.7" y="441" font-size="10" fill="#505050" textLength="9.8" lengthAdjust="spacingAndGlyphs">28</text>
<text x="677.7" y="441" font-size="10" fill="#505050" textLength="9.8" lengthAdjust="spacingAndGlyphs">29</text>
<text x="696.7" y="441" font-size="10" fill="#505050" textLength="9.8" lengthAdjust="spacingAndGlyphs">30</text>
<text x="715.7" y="441" font-size="10" fill="#2d4d63" textLength="9.8" lengthAdjust="spacingAndGlyphs">31</text>
<line x1="141.5" y1="429" x2="141.5" y2="457" stroke="#555555" stroke-width="1"/>
<text x="28" y="457" font-size="12" fill="#505050" textLength="43" lengthAdjust="spacingAndGlyphs">Февраль</text>
<text x="145.5" y="457" font-size="12" fill="#505050" textLength="25" lengthAdjust="spacingAndGlyphs">Март</text>
<line x1="27" y1="458.5" x2="616" y2="458.5" stroke="#e8e8e8"/>
<text x="32" y="489.6" font-size="11.2" font-weight="bold" fill="#2e2e2e" textLength="68" lengthAdjust="spacingAndGlyphs">Менструация</text>
<path d="M38.60,498.00 C39.90,499.76 41.66,502.22 42.38,503.86 A4.50,4.50 0 1 1 34.82,503.86 C35.54,502.22 37.30,499.76 38.60,498.00 Z" fill="#f03c45"/>
<text x="51.5" y="509.1" font-size="11.2" fill="#2e2e2e" stroke="#2e2e2e" stroke-width="0.25" textLength="62.5" lengthAdjust="spacingAndGlyphs">Менструация</text>
<path d="M38.80,521.50 C39.65,522.91 40.80,524.88 41.28,526.19 A2.80,2.80 0 1 1 36.32,526.19 C36.80,524.88 37.95,522.91 38.80,521.50 Z" fill="#f03c45"/>
<text x="51.5" y="529.8000000000001" font-size="11.2" fill="#2e2e2e" stroke="#2e2e2e" stroke-width="0.25" textLength="109" lengthAdjust="spacingAndGlyphs">Небольшие выделения</text>
<text x="186" y="489.1" font-size="11.2" font-weight="bold" fill="#2e2e2e" textLength="90.5" lengthAdjust="spacingAndGlyphs">Тест на овуляцию</text>
<circle cx="191.7" cy="505.7" r="7" fill="#f6d34a"/>
<text x="205.3" y="508.40000000000003" font-size="11.2" fill="#2e2e2e" stroke="#2e2e2e" stroke-width="0.25" textLength="76" lengthAdjust="spacingAndGlyphs">Положительный</text>
<circle cx="191.7" cy="525.3" r="6.3" fill="#ffffff" stroke="#f0e1a8" stroke-width="1.2"/>
<text x="205.3" y="529.1" font-size="11.2" fill="#2e2e2e" stroke="#2e2e2e" stroke-width="0.25" textLength="74" lengthAdjust="spacingAndGlyphs">Отрицательный</text>
<text x="316" y="489.40000000000003" font-size="11.2" font-weight="bold" fill="#2e2e2e" textLength="113" lengthAdjust="spacingAndGlyphs">Тест на беременность</text>
<rect x="317.30" y="498" width="3" height="12" rx="1.7" fill="#8cb52a"/>
<rect x="325.00" y="498" width="3" height="12" rx="1.7" fill="#8cb52a"/>
<text x="335.3" y="509.1" font-size="11.2" fill="#2e2e2e" stroke="#2e2e2e" stroke-width="0.25" textLength="75.7" lengthAdjust="spacingAndGlyphs">Положительный</text>
<rect x="321.10" y="519.5" width="3" height="12" rx="1.7" fill="#8cb52a"/>
<text x="335.3" y="529.6" font-size="11.2" fill="#2e2e2e" stroke="#2e2e2e" stroke-width="0.25" textLength="73.5" lengthAdjust="spacingAndGlyphs">Отрицательный</text>
<rect x="317.30" y="539.5" width="3" height="12" rx="1.7" fill="#8cb52a"/>
<rect x="325.00" y="539.5" width="3" height="12" rx="1.7" fill="#d6e2aa"/>
<text x="335.3" y="548.9" font-size="11.2" fill="#2e2e2e" stroke="#2e2e2e" stroke-width="0.25" textLength="103.8" lengthAdjust="spacingAndGlyphs">Слабоположительный</text>
<text x="472" y="489.6" font-size="11.2" font-weight="bold" fill="#2e2e2e" textLength="127" lengthAdjust="spacingAndGlyphs">Цервикальная жидкость</text>
<path d="M479.50,503.20 C480.42,503.74 481.60,504.50 482.01,505.01 A4.30,4.30 0 1 1 476.99,505.01 C477.40,504.50 478.58,503.74 479.50,503.20 Z" fill="#ffffff" stroke="#7f9aa9" stroke-width="1.1"/>
<text x="492.2" y="510.6" font-size="11.2" fill="#2e2e2e" stroke="#2e2e2e" stroke-width="0.25" textLength="22.2" lengthAdjust="spacingAndGlyphs">Сухо</text>
<path d="M475.5,522.6 H483.5 V523.6 C481.2,524 480.2,525.6 480.1,528 C480.2,530.4 481.2,532 483.5,532.4 V533.4 H475.5 V532.4 C477.8,532 478.8,530.4 478.9,528 C478.8,525.6 477.8,524 475.5,523.6 Z" fill="#629fd2"/>
<text x="492.2" y="531.1" font-size="11.2" fill="#2e2e2e" stroke="#2e2e2e" stroke-width="0.25" textLength="39" lengthAdjust="spacingAndGlyphs">Клейкая</text>
<path transform="translate(475.7,542.8)" d="M0,0 C3,0.3 8.3,2.8 9.3,7.5 A4,4 0 0 1 1.3,7.5 C1.3,5.6 2.6,4.4 4.2,4.4 C3.2,3 1.8,1.2 0,0 Z" fill="#68b5ea"/>
<text x="492.2" y="551.3000000000001" font-size="11.2" fill="#2e2e2e" stroke="#2e2e2e" stroke-width="0.25" textLength="75.7" lengthAdjust="spacingAndGlyphs">Кремообразная</text>
<path d="M479.50,560.50 C480.75,561.94 482.43,563.96 483.10,565.30 A4.50,4.50 0 1 1 475.90,565.30 C476.57,563.96 478.25,561.94 479.50,560.50 Z" fill="#68b5ea"/>
<text x="492.2" y="571.0" font-size="11.2" fill="#2e2e2e" stroke="#2e2e2e" stroke-width="0.25" textLength="55.2" lengthAdjust="spacingAndGlyphs">Водянистая</text>
<ellipse cx="479.6" cy="587" rx="4.4" ry="6" fill="#68b5ea"/>
<text x="492.2" y="591.2" font-size="11.2" fill="#2e2e2e" stroke="#2e2e2e" stroke-width="0.25" textLength="67.2" lengthAdjust="spacingAndGlyphs">Яичный белок</text>
<path transform="translate(31.00,582.34) scale(1.083)" d="M6,11 C2,8 0,6 0,3.3 C0,1.3 1.5,0 3.2,0 C4.5,0 5.4,0.7 6,1.7 C6.6,0.7 7.5,0 8.8,0 C10.5,0 12,1.3 12,3.3 C12,6 10,8 6,11 Z" fill="#f152b7"/>
<text x="51.3" y="591.0" font-size="11.2" fill="#2e2e2e" stroke="#2e2e2e" stroke-width="0.25" textLength="59.4" lengthAdjust="spacingAndGlyphs">Половой акт</text>
<circle cx="139.1" cy="588.5" r="6.8" fill="#c9c9c9"/>
<line x1="135.8" y1="592" x2="142.5" y2="585" stroke="#ffffff" stroke-width="1.8" stroke-linecap="round"/>
<text x="151.2" y="591.0" font-size="11.2" fill="#2e2e2e" stroke="#2e2e2e" stroke-width="0.25" textLength="77" lengthAdjust="spacingAndGlyphs">Прием лекарств</text>
<path d="M257.39,581.24 A7.00,7.00 0 1 0 265.96,589.81 A6.09,6.09 0 0 1 257.39,581.24 Z" fill="#f49a12"/>
<text x="270.8" y="591.0" font-size="11.2" fill="#2e2e2e" stroke="#2e2e2e" stroke-width="0.25" textLength="90" lengthAdjust="spacingAndGlyphs">Лунный календарь</text>
</svg>
</body></html>
